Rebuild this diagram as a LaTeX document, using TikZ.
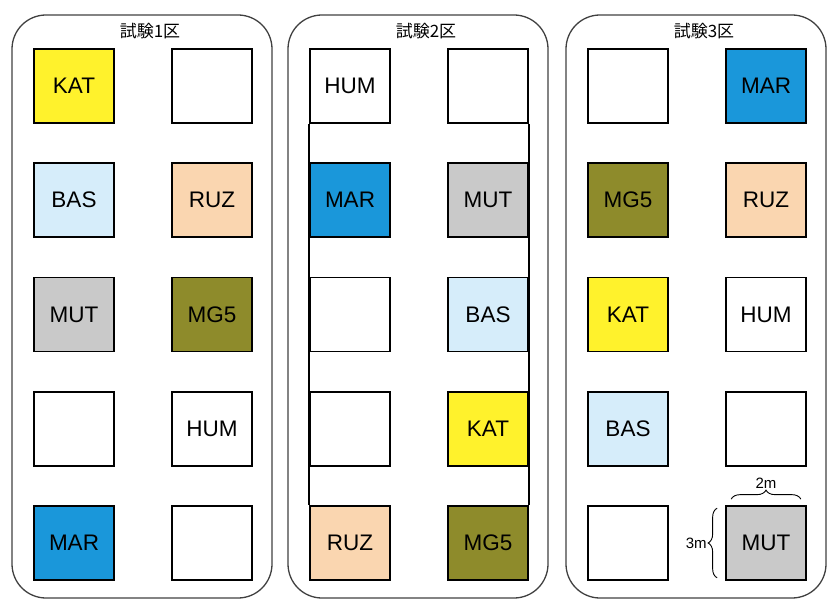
\documentclass[tikz,border=0pt]{standalone}
\usepackage{fontspec}
\setmainfont{Liberation Sans}
\newfontfamily\jpfont{Noto Sans CJK JP}
\usetikzlibrary{decorations.pathreplacing}

% Colours of the varieties
\definecolor{colKAT}{HTML}{FFF22C}
\definecolor{colBAS}{HTML}{D6EDFA}
\definecolor{colRUZ}{HTML}{FAD6B0}
\definecolor{colMUT}{HTML}{C9C9C9}
\definecolor{colMG5}{HTML}{8E8B2B}
\definecolor{colMAR}{HTML}{1A97DA}
\definecolor{colHUM}{HTML}{FFFFFF}
\definecolor{colblank}{HTML}{FFFFFF}

\tikzset{
  plot/.style={draw=black, line width=1.7pt, minimum width=80pt, minimum height=74pt,
    inner sep=0pt, font=\fontsize{22.5}{22.5}\selectfont},
  block/.style={draw=black!75, line width=1.3pt, rounded corners=34pt},
  blocktitle/.style={font=\jpfont\fontsize{17}{17}\selectfont},
  dim/.style={decorate, decoration={brace, amplitude=9pt}, line width=0.9pt},
  dimlabel/.style={font=\fontsize{15}{15}\selectfont, inner sep=1pt}
}

\begin{document}
\begin{tikzpicture}[x=1pt, y=-1pt]
\useasboundingbox (0,0) rectangle (827,601);

% Parameters
\def\colGap{138}      % distance between the two columns
\def\rowGap{114.25}   % distance between rows
\def\blankname{blank}

% Three test blocks, plots listed row by row (left, right)
\foreach \p/\x/\plots in {
    1/74/{KAT,blank,BAS,RUZ,MUT,MG5,blank,HUM,MAR,blank},
    2/350/{HUM,blank,MAR,MUT,blank,BAS,blank,KAT,RUZ,MG5},
    3/628/{blank,MAR,MG5,RUZ,KAT,HUM,BAS,blank,blank,MUT}} {

    % Block outline and title
    \draw[block] ({\x-62},15) rectangle ({\x+198},598);
    \node[blocktitle] (t\p) at ({\x+76},31) {試験\p 区};

    % Plots
    \foreach \v [count=\k from 0] in \plots {
        \pgfmathtruncatemacro\r{div(\k,2)+1}
        \pgfmathtruncatemacro\c{mod(\k,2)+1}
        \edef\txt{\v}
        \ifx\txt\blankname \def\txt{}\fi
        \node[plot, fill=col\v] (p\p-\r-\c) at ({\x+(\c-1)*\colGap},{86+(\r-1)*\rowGap}) {\txt};
    }
}

% Side lines of block 2
\draw[line width=1.7pt] (p2-1-1.south west) -- (p2-5-1.north west);
\draw[line width=1.7pt] (p2-1-2.south east) -- (p2-5-2.north east);

% Plot size
\coordinate (wa) at ([xshift=6pt, yshift=6pt]p3-5-2.north west);
\coordinate (wb) at ([xshift=-6pt, yshift=6pt]p3-5-2.north east);
\draw[dim] (wa) -- (wb) node[dimlabel, midway, above=9pt, name=w] {2m};
\coordinate (ha) at ([xshift=-8pt, yshift=3pt]p3-5-2.south west);
\coordinate (hb) at ([xshift=-8pt, yshift=-3pt]p3-5-2.north west);
\draw[dim] (ha) -- (hb) node[dimlabel, midway, left=9pt, name=h] {3m};

\end{tikzpicture}
\end{document}
